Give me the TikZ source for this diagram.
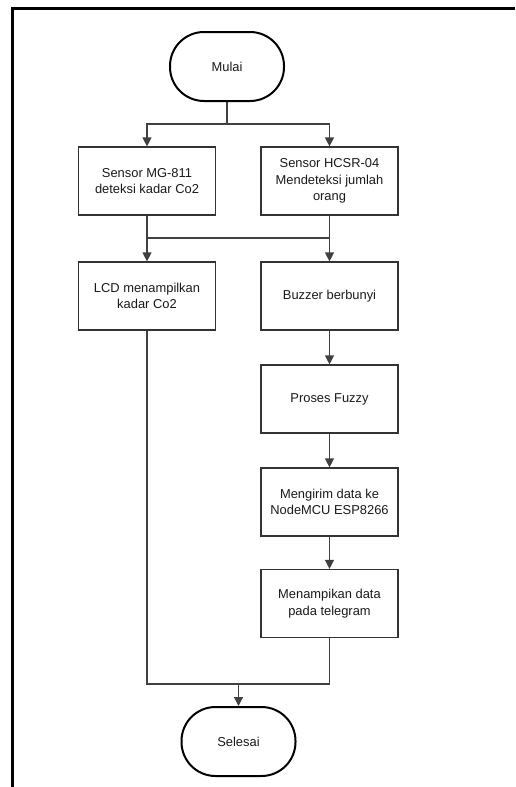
\documentclass[tikz,border=0pt]{standalone}
\usepackage{fontspec}
\setmainfont{Liberation Sans}
\usetikzlibrary{arrows.meta}
\begin{document}
\begin{tikzpicture}[x=1pt,y=-1pt,
  every node/.style={font=\fontsize{12.9}{16.5}\selectfont, text=black!90, align=center, inner sep=0pt},
  procbox/.style={draw=black!80, line width=1.2pt, minimum width=137pt, minimum height=68pt},
  termbox/.style={draw=black, line width=2pt, rounded corners=34pt, minimum width=114pt, minimum height=69pt},
  conn/.style={draw=black!75, line width=1.3pt},
  arr/.style={conn, -{Triangle[length=9pt,width=9pt]}}]
\useasboundingbox (0,0) rectangle (515,787);
% frame
\draw[line width=3pt] (12,787) -- (12,8) -- (515,8);

\node[termbox] (mulai) at (227,66.5) {Mulai};
\node[procbox] (mg) at (147,181) {Sensor MG-811\\deteksi kadar Co2};
\node[procbox] (hc) at (329.5,181) {Sensor HCSR-04\\Mendeteksi jumlah\\orang};
\node[procbox] (lcd) at (147,296) {LCD menampilkan\\kadar Co2};
\node[procbox] (buz) at (329.5,296) {Buzzer berbunyi};
\node[procbox] (fuz) at (329.5,399) {Proses Fuzzy};
\node[procbox] (kirim) at (329.5,502) {Mengirim data ke\\NodeMCU ESP8266};
\node[procbox] (tele) at (329.5,603.5) {Menampikan data\\pada telegram};
\node[termbox] (selesai) at (238.5,741.5) {Selesai};

\coordinate (s1) at (227,124);
\coordinate (j1) at (147,238);
\coordinate (j2) at (329.5,238);
\coordinate (m1) at (147,684);
\coordinate (m2) at (329.5,684);
\coordinate (m3) at (238.5,684);

\draw[conn] (mulai.south) -- (s1);
\draw[arr] (s1) -| (mg.north);
\draw[arr] (s1) -| (hc.north);
\draw[conn] (mg.south) -- (j1);
\draw[conn] (hc.south) -- (j2);
\draw[conn] (j1) -- (j2);
\draw[arr] (j1) -- (lcd.north);
\draw[arr] (j2) -- (buz.north);
\draw[arr] (buz) -- (fuz);
\draw[arr] (fuz) -- (kirim);
\draw[arr] (kirim) -- (tele);
\draw[conn] (lcd.south) -- (m1) -- (m2) -- (tele.south);
\draw[arr] (m3) -- (selesai.north);
\end{tikzpicture}
\end{document}
